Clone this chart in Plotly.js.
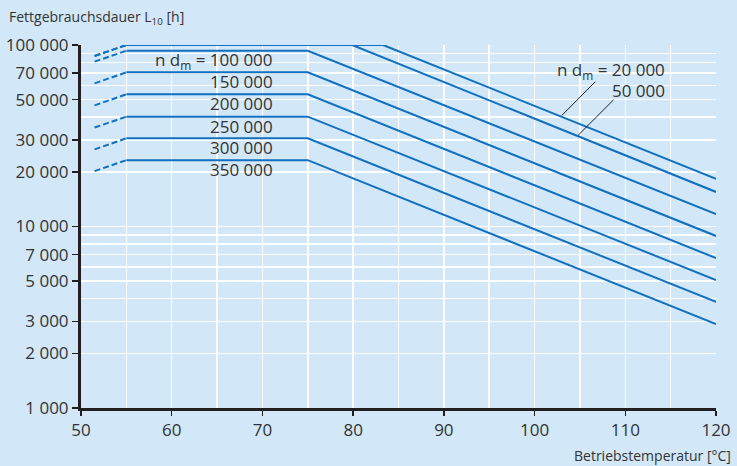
<!DOCTYPE html>
<html>
<head>
<meta charset="utf-8">
<script src="https://cdn.plot.ly/plotly-3.0.1.min.js"></script>
<style>html,body{margin:0;padding:0;background:#d2e7f7;}#chart{width:737px;height:466px;}</style>
</head>
<body>
<div id="chart"></div>
<script>
// n·dm values of the curves
const nDm = [20000, 50000, 100000, 150000, 200000, 250000, 300000, 350000];
const seriesLabels = ['20 000', '50 000', '100 000', '150 000', '200 000', '250 000', '300 000', '350 000'];
// temperatures [°C]
const dashStartTemp = 51.5;
const plateauStartTemp = 55;
const endTemp = 120;
const kneeTemp = [83.3, 79.9, 75, 75, 75, 75, 75, 75];
// grease life L10 [h]
const dashStartLevel = [87000, 87000, 81000, 61500, 46500, 35100, 26600, 20200];
const plateauLevel = [100000, 100000, 93000, 70700, 53500, 40300, 30600, 23200];
const endLevel = [18300, 15500, 11700, 8870, 6700, 5070, 3840, 2900];
// leader lines for the right-hand labels (20 000 and 50 000)
const leaderTemp = [[106.7, 103.0], [108.7, 104.8]];
const leaderLevel = [[62800, 40900], [49800, 31800]];
// axis ticks
const xTickVals = [50, 60, 70, 80, 90, 100, 110, 120];
const yTickVals = [1000, 2000, 3000, 5000, 7000, 10000, 20000, 30000, 50000, 70000, 100000];
const yTickText = ['1 000', '2 000', '3 000', '5 000', '7 000', '10 000', '20 000', '30 000', '50 000', '70 000', '100 000'];
const yMinorVals = [4000, 6000, 8000, 9000, 40000, 60000, 80000, 90000];

const lineColor = '#1170bf';
const textColor = '#333333';
const axisColor = '#231f20';
const bg = '#d2e7f7';
const font = 'Open Sans, sans-serif';

const traces = [];
for (let i = 0; i < nDm.length; i++) {
  traces.push({
    x: [dashStartTemp, plateauStartTemp],
    y: [dashStartLevel[i], plateauLevel[i]],
    mode: 'lines', line: {color: lineColor, width: 2, dash: '6px,3px'},
    hoverinfo: 'skip', showlegend: false
  });
  traces.push({
    x: [plateauStartTemp, kneeTemp[i], endTemp],
    y: [plateauLevel[i], plateauLevel[i], endLevel[i]],
    mode: 'lines', line: {color: lineColor, width: 2},
    name: seriesLabels[i], showlegend: false
  });
}
for (let k = 0; k < leaderTemp.length; k++) {
  traces.push({
    x: leaderTemp[k], y: leaderLevel[k], mode: 'lines',
    line: {color: '#222222', width: 1}, hoverinfo: 'skip', showlegend: false
  });
}

const annotations = [];
// left labels, under each plateau line (100 000 ... 350 000)
for (let i = 2; i < nDm.length; i++) {
  annotations.push({
    x: 71.4, y: Math.log10(plateauLevel[i]), xref: 'x', yref: 'y',
    xanchor: 'right', yanchor: 'middle', yshift: -9.5, showarrow: false,
    text: (i === 2 ? 'n d<sub>m</sub> = ' : '') + seriesLabels[i],
    font: {family: font, size: 17, color: textColor}
  });
}
annotations.push({
  x: 114.6, y: 4.862, xref: 'x', yref: 'y', xanchor: 'right', yanchor: 'middle',
  showarrow: false, text: 'n d<sub>m</sub> = ' + seriesLabels[0],
  font: {family: font, size: 17, color: textColor}
});
annotations.push({
  x: 114.6, y: 4.747, xref: 'x', yref: 'y', xanchor: 'right', yanchor: 'middle',
  showarrow: false, text: seriesLabels[1],
  font: {family: font, size: 17, color: textColor}
});
annotations.push({
  x: -0.1165, y: 1.077, xref: 'paper', yref: 'paper', xanchor: 'left', yanchor: 'middle',
  showarrow: false, text: 'Fettgebrauchsdauer L<sub>10</sub> [h]',
  font: {family: font, size: 14, color: textColor}
});
annotations.push({
  x: 1.0268, y: -0.1295, xref: 'paper', yref: 'paper', xanchor: 'right', yanchor: 'middle',
  showarrow: false, text: 'Betriebstemperatur [°C]',
  font: {family: font, size: 14, color: textColor}
});

const layout = {
  width: 737, height: 466,
  margin: {l: 81, r: 21, t: 45, b: 58},
  paper_bgcolor: bg, plot_bgcolor: bg,
  font: {family: font, color: textColor},
  xaxis: {
    range: [50, 120], tickvals: xTickVals, ticks: 'outside', ticklen: 5, tickwidth: 1.5,
    tickcolor: axisColor, showline: true, linecolor: axisColor, linewidth: 3,
    showgrid: true, gridcolor: '#ffffff', gridwidth: 1.5, zeroline: false,
    tickfont: {family: font, size: 17, color: textColor},
    minor: {dtick: 5, showgrid: true, gridcolor: '#ffffff', gridwidth: 1.5, ticks: ''}
  },
  yaxis: {
    type: 'log', range: [3, 5], tickvals: yTickVals, ticktext: yTickText,
    ticks: 'outside', ticklen: 6, tickwidth: 1.5, tickcolor: axisColor,
    showline: true, linecolor: axisColor, linewidth: 3,
    showgrid: true, gridcolor: '#ffffff', gridwidth: 1.5, zeroline: false,
    tickfont: {family: font, size: 17, color: textColor},
    minor: {tickvals: yMinorVals, showgrid: true, gridcolor: '#ffffff', gridwidth: 1.5, ticks: ''}
  },
  annotations: annotations
};

Plotly.newPlot('chart', traces, layout, {staticPlot: true, displayModeBar: false});
</script>
</body>
</html>
